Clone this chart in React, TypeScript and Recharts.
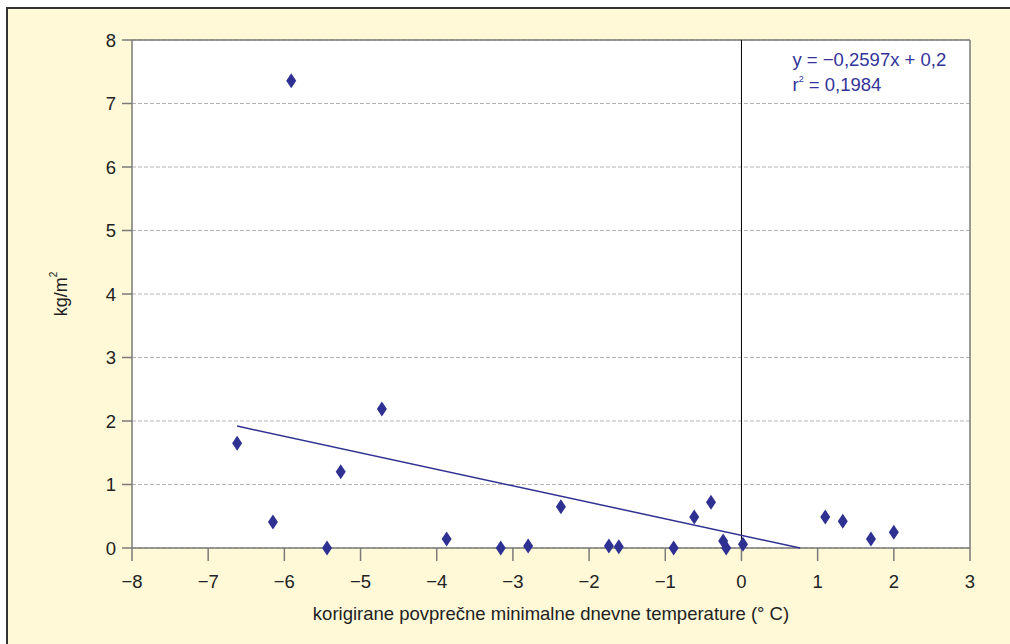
import React from 'react';
import {
  ScatterChart,
  Scatter,
  XAxis,
  YAxis,
  CartesianGrid,
  ReferenceLine,
} from 'recharts';

const xValues = [
  -6.62, -6.15, -5.91, -5.44, -5.26, -4.72, -3.87, -3.16, -2.8, -2.37, -1.74,
  -1.61, -0.89, -0.62, -0.4, -0.24, -0.2, 0.02, 1.1, 1.33, 1.7, 2.0,
];
const yValues = [
  1.65, 0.41, 7.36, 0.0, 1.2, 2.19, 0.14, 0.0, 0.03, 0.65, 0.03, 0.02, 0.0,
  0.49, 0.72, 0.11, 0.0, 0.06, 0.49, 0.42, 0.14, 0.25,
];
const trendX = [-6.62, 0.77];
const trendY = [1.92, 0.0];
const xTicks = [-8, -7, -6, -5, -4, -3, -2, -1, 0, 1, 2, 3];
const yTicks = [0, 1, 2, 3, 4, 5, 6, 7, 8];
const equationText = 'y = \u22120,2597x + 0,2';
const rSquaredValue = '0,1984';
const xAxisTitle = 'korigirane povprečne minimalne dnevne temperature (° C)';

const points = xValues.map((x, i) => ({ x, y: yValues[i] }));
const trend = trendX.map((x, i) => ({ x, y: trendY[i] }));

const FONT = '"Liberation Sans", Arial, Helvetica, sans-serif';
const BLUE = '#2E3192';
const AXIS = '#7a7a7a';

const Diamond = (props: any) => {
  const { cx, cy } = props;
  if (cx == null || cy == null) return <g />;
  return (
    <polygon
      points={`${cx},${cy - 7.5} ${cx + 5},${cy} ${cx},${cy + 7.5} ${cx - 5},${cy}`}
      fill={BLUE}
    />
  );
};

const NoShape = () => <g />;

const fmt = (v: number) => (v < 0 ? '\u2212' + Math.abs(v) : String(v));

const YTitle = (props: any) => {
  const vb = props.viewBox || {};
  const cx = 61;
  const cy = (vb.y ?? 40) + (vb.height ?? 508) / 2;
  return (
    <text
      x={cx}
      y={cy}
      transform={`rotate(-90, ${cx}, ${cy})`}
      textAnchor="middle"
      dominantBaseline="central"
      fontFamily={FONT}
      fontSize={18}
      fill="#222"
    >
      kg/m
      <tspan fontSize={10} dy={-8}>
        2
      </tspan>
    </text>
  );
};

const Equation = (props: any) => {
  const vb = props.viewBox || {};
  const x0 = (vb.x ?? 742) + 51;
  const y0 = (vb.y ?? 40) + 26;
  return (
    <g fontFamily={FONT} fontSize={18.5} fill="#333399">
      <text x={x0} y={y0}>
        {equationText}
      </text>
      <text x={x0} y={y0 + 25}>
        r
        <tspan fontSize={9} dy={-9}>
          2
        </tspan>
        <tspan dy={9}>{' = ' + rSquaredValue}</tspan>
      </text>
    </g>
  );
};

export default function App() {
  return (
    <div
      style={{
        position: 'absolute',
        left: 0,
        top: 0,
        width: 1010,
        height: 644,
        background: '#ffffff',
        overflow: 'hidden',
      }}
    >
      <div
        style={{
          position: 'absolute',
          left: 6,
          top: 7,
          width: 1010,
          height: 644,
          background: '#FFF9D8',
          borderLeft: '2px solid #333',
          borderTop: '2px solid #333',
        }}
      />
      <div style={{ position: 'absolute', left: 0, top: 0 }}>
        <ScatterChart
          width={1010}
          height={644}
          margin={{ top: 40, right: 40, left: 0, bottom: 0 }}
        >
          <CartesianGrid
            horizontal={true}
            vertical={false}
            stroke="#b4b4b4"
            strokeDasharray="4 2"
            fill="#ffffff"
            fillOpacity={1}
          />
          <XAxis
            type="number"
            dataKey="x"
            domain={[-8, 3]}
            ticks={xTicks}
            interval={0}
            height={96}
            stroke={AXIS}
            strokeWidth={1.5}
            tickSize={13}
            tickMargin={14}
            tickFormatter={fmt}
            tick={{ fill: '#222', fontSize: 18.5, fontFamily: FONT }}
            label={{
              value: xAxisTitle,
              position: 'insideBottom',
              offset: 24,
              fill: '#222',
              fontSize: 18.5,
              fontFamily: FONT,
            }}
          />
          <YAxis
            type="number"
            dataKey="y"
            domain={[0, 8]}
            ticks={yTicks}
            interval={0}
            width={132}
            stroke={AXIS}
            strokeWidth={1.5}
            tickSize={10}
            tickMargin={6}
            tick={{ fill: '#222', fontSize: 18.5, fontFamily: FONT }}
            label={{ content: YTitle }}
          />
          <ReferenceLine y={8} stroke={AXIS} strokeWidth={1.5} />
          <ReferenceLine x={3} stroke={AXIS} strokeWidth={1.5} />
          <ReferenceLine
            x={0}
            stroke="#000"
            strokeWidth={1}
            label={{ content: Equation }}
          />
          <Scatter
            data={trend}
            line={{ stroke: BLUE, strokeWidth: 1.5 }}
            shape={NoShape}
            isAnimationActive={false}
          />
          <Scatter data={points} shape={Diamond} isAnimationActive={false} />
        </ScatterChart>
      </div>
    </div>
  );
}
